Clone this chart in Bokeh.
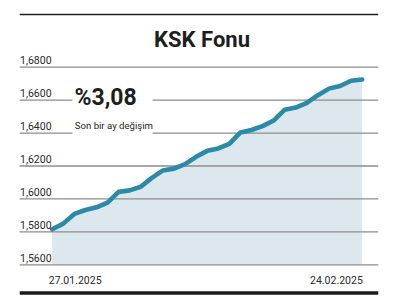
from datetime import datetime
from bokeh.plotting import figure
from bokeh.models import Range1d
from bokeh.core.properties import value
from bokeh.embed import file_html
from bokeh.resources import INLINE

# ---- data ----
DATES = ["2025-01-27", "2025-01-28", "2025-01-29", "2025-01-30", "2025-01-31",
         "2025-02-01", "2025-02-02", "2025-02-03", "2025-02-04", "2025-02-05",
         "2025-02-06", "2025-02-07", "2025-02-08", "2025-02-09", "2025-02-10",
         "2025-02-11", "2025-02-12", "2025-02-13", "2025-02-14", "2025-02-15",
         "2025-02-16", "2025-02-17", "2025-02-18", "2025-02-19", "2025-02-20",
         "2025-02-21", "2025-02-22", "2025-02-23", "2025-02-24"]
PRICES = [1.5816, 1.5850, 1.5909, 1.5933, 1.5949, 1.5978, 1.6043, 1.6052, 1.6074,
          1.6128, 1.6173, 1.6184, 1.6211, 1.6256, 1.6292, 1.6307, 1.6334, 1.6404,
          1.6419, 1.6442, 1.6476, 1.6542, 1.6555, 1.6584, 1.6630, 1.6670, 1.6686,
          1.6718, 1.6725]
TICKS = [1.56, 1.58, 1.60, 1.62, 1.64, 1.66, 1.68]
TICK_LABELS = ["1,5600", "1,5800", "1,6000", "1,6200", "1,6400", "1,6600", "1,6800"]
DATE_LABELS = ["27.01.2025", "24.02.2025"]
TITLE = "KSK Fonu"
CHANGE = "%3,08"
CHANGE_NOTE = "Son bir ay değişim"

FONT = value("Roboto")
LINE_COLOR = "#2a8aa8"
FILL_COLOR = "#dde7ee"
GRID_COLOR = "#8d8d8d"
TEXT_COLOR = "#1e1e1e"

# ---- pixel <-> data helpers (layout) ----
xs = [datetime.strptime(d, "%Y-%m-%d").timestamp() * 1000 for d in DATES]
DAY = 86400000.0
X0PX, DAYPX = 51.7, 310.0 / 28
Y0PX, KPX = 264.3, 0.02 / 32.93
SHIFT = 0.35  # baseline correction, fraction of font size


def xd(px):
    return xs[0] + (px - X0PX) / DAYPX * DAY


def yd(py):
    return TICKS[0] + (Y0PX - py) * KPX


def ytext(baseline_px, size):
    return yd(baseline_px - SHIFT * size)


W, H = 393, 306
p = figure(width=W, height=H, x_range=Range1d(xd(19), xd(378)),
           y_range=Range1d(yd(298), yd(8)),
           x_axis_location=None, y_axis_location=None,
           toolbar_location=None, output_backend="svg",
           min_border_left=19, min_border_right=15, min_border_top=8, min_border_bottom=8,
           outline_line_color=None, background_fill_color="white", border_fill_color="white")
p.xgrid.visible = False
p.ygrid.visible = False

# area
area = p.varea(x=xs, y1=[TICKS[0]] * len(xs), y2=PRICES, fill_color=FILL_COLOR)
area.level = "image"

# gridlines
gl = p.segment(x0=[xd(19)] * len(TICKS), x1=[xd(378)] * len(TICKS), y0=TICKS, y1=TICKS,
               line_color=GRID_COLOR, line_width=1.3)
gl.level = "underlay"

# top and bottom rules
p.segment(x0=[xd(19)], x1=[xd(378)], y0=[yd(14)], y1=[yd(14)], line_color="#222222", line_width=1.5)
p.segment(x0=[xd(19)], x1=[xd(378)], y0=[yd(292.5)], y1=[yd(292.5)], line_color="#1b1b1b", line_width=3.5)

# price line
p.line(x=xs, y=PRICES, line_color=LINE_COLOR, line_width=4.6, line_join="round", line_cap="round")

# white box behind annotation
p.quad(left=[xd(72)], right=[xd(152)], top=[yd(82)], bottom=[yd(137)],
       fill_color="white", line_color=None)

# title
p.text(x=[xd(201.5)], y=[ytext(47, 22)], text=[TITLE], text_font=FONT, text_font_size="22px",
       text_font_style="bold", text_align="center", text_baseline="alphabetic", text_color=TEXT_COLOR)

# tick labels
p.text(x=[xd(19.5)] * len(TICKS), y=[t + (3.3 + SHIFT * 10.5) * KPX for t in TICKS], text=TICK_LABELS,
       text_font=FONT, text_font_size="10.5px", text_align="left", text_baseline="alphabetic",
       text_color="#2a2a2a")

# date labels
p.text(x=[xs[0]], y=[ytext(283.3, 10.5)], text=[DATE_LABELS[0]], x_offset=-3.4, text_font=FONT,
       text_font_size="10.5px", text_align="left", text_baseline="alphabetic", text_color="#2a2a2a")
p.text(x=[xs[-1]], y=[ytext(283.3, 10.5)], text=[DATE_LABELS[1]], x_offset=0.6, text_font=FONT,
       text_font_size="10.5px", text_align="right", text_baseline="alphabetic", text_color="#2a2a2a")

# annotation
p.text(x=[xd(74)], y=[ytext(105, 23)], text=[CHANGE], text_font=FONT, text_font_size="23px",
       text_font_style="bold", text_align="left", text_baseline="alphabetic", text_color=TEXT_COLOR)
p.text(x=[xd(74.3)], y=[ytext(128.8, 9.6)], text=[CHANGE_NOTE], text_font=FONT, text_font_size="9.6px",
       text_align="left", text_baseline="alphabetic", text_color=TEXT_COLOR)

open("out.html", "w").write(file_html(p, INLINE))
